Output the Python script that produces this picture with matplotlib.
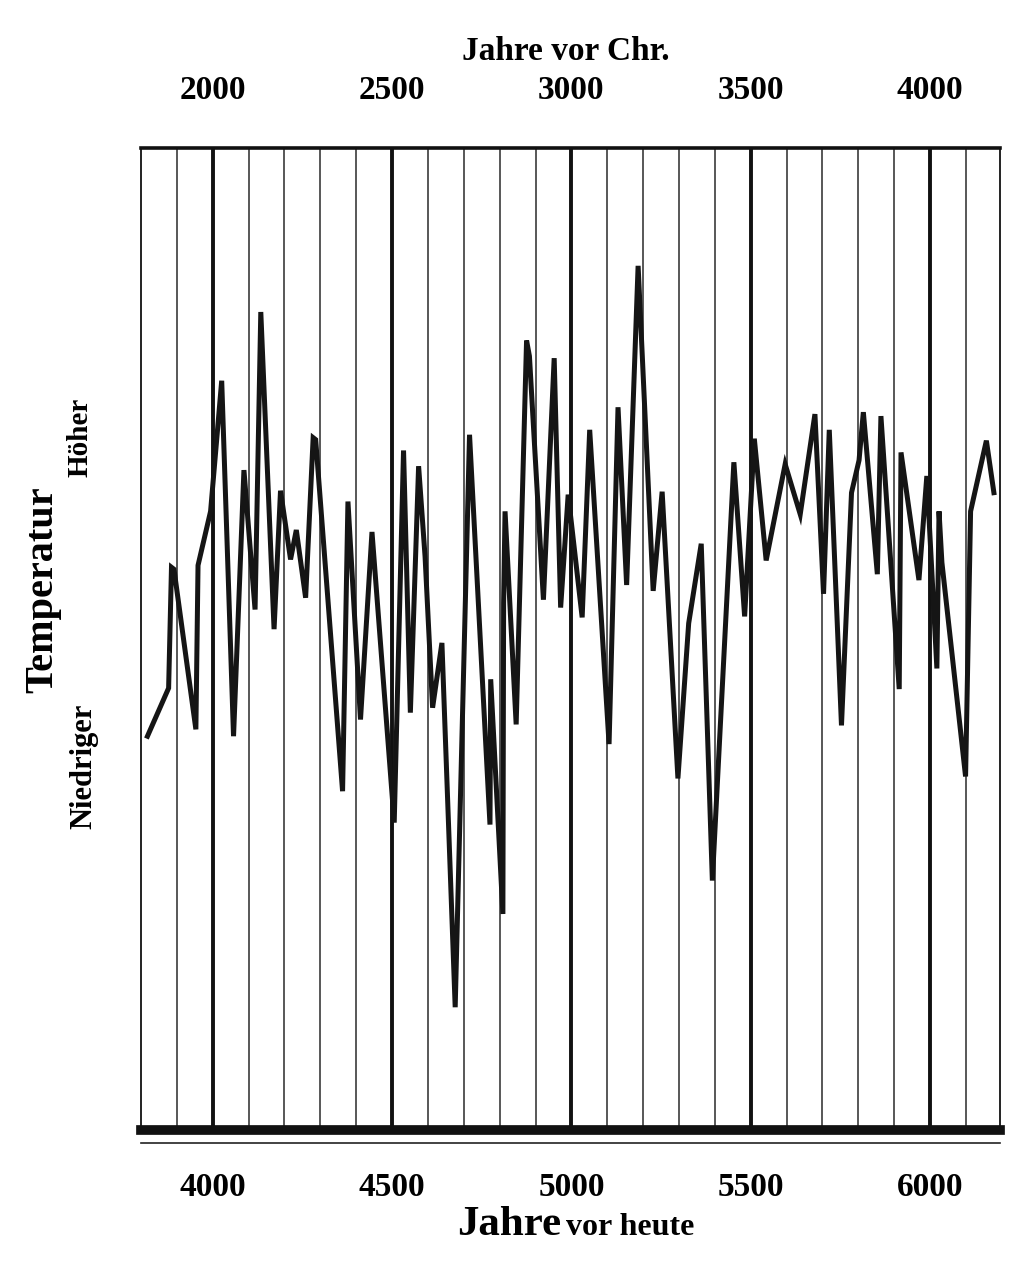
import matplotlib
matplotlib.use("Agg")
import matplotlib.pyplot as plt

plt.rcParams['font.family'] = ['Liberation Serif', 'DejaVu Serif']
plt.rcParams['font.weight'] = 'bold'

# Temperature curve (years before present, relative level 0..100)
years = [3818, 3877, 3885, 3892, 3953, 3959, 3994, 4025, 4058, 4087,
         4118, 4134, 4171, 4189, 4217, 4233, 4259, 4280, 4287, 4362,
         4377, 4412, 4444, 4506, 4532, 4551, 4574, 4592, 4613, 4639,
         4676, 4716, 4773, 4775, 4809, 4811, 4815, 4846, 4875, 4883,
         4922, 4952, 4970, 4991, 5030, 5051, 5105, 5130, 5154, 5186,
         5228, 5253, 5297, 5327, 5362, 5393, 5453, 5483, 5510, 5543,
         5596, 5638, 5679, 5703, 5719, 5753, 5781, 5802, 5814, 5853,
         5863, 5914, 5919, 5969, 5991, 6019, 6025, 6033, 6099, 6113,
         6157, 6178]
temp = [40.1, 45.0, 57.3, 57.1, 40.8, 57.5, 63.0, 76.3, 40.1, 67.2,
        53.0, 83.3, 51.0, 65.1, 58.1, 61.1, 54.2, 70.5, 70.3, 34.5,
        64.0, 41.8, 60.9, 31.3, 69.2, 42.5, 67.6, 58.4, 43.0, 49.6,
        12.5, 70.8, 31.1, 45.9, 22.0, 53.7, 63.0, 41.3, 80.4, 78.8,
        54.0, 78.6, 53.2, 64.7, 52.2, 71.3, 39.3, 73.6, 55.5, 88.0,
        54.9, 65.0, 35.8, 51.6, 59.7, 25.4, 68.0, 52.3, 70.4, 58.0,
        67.8, 62.7, 72.9, 54.6, 71.3, 41.2, 64.9, 68.2, 73.1, 56.6,
        72.7, 44.9, 69.0, 56.0, 66.6, 47.0, 63.0, 57.8, 36.0, 63.0,
        70.2, 64.9]

bp_ticks = [4000, 4500, 5000, 5500, 6000]
bc_ticks = [2000, 2500, 3000, 3500, 4000]
grid_years = list(range(3900, 6200, 100))

W, H = 1029, 1275
fig = plt.figure(figsize=(W / 100, H / 100), dpi=100)
ax = fig.add_axes([141 / W, 1 - 1130 / H, (1000 - 141) / W, (1130 - 148) / H])

# vertical year lines, heavier every 500 years
for yr in grid_years:
    if yr % 500 == 0:
        ax.axvline(yr, color='#111111', lw=2.8, zorder=1)
    else:
        ax.axvline(yr, color='#2a2a2a', lw=1.1, zorder=1)

ax.plot(years, temp, color='#151515', lw=3.6, solid_joinstyle='miter', zorder=3)

ax.set_xlim(3800, 6195)
ax.set_ylim(0, 100)
ax.set_yticks([])

for side, lw in [('top', 2.6), ('bottom', 7), ('left', 1.3), ('right', 1.3)]:
    ax.spines[side].set_linewidth(lw)
    ax.spines[side].set_color('#111111')
ax.plot([0, 1], [-0.013, -0.013], transform=ax.transAxes, color='#222222',
        lw=1.2, clip_on=False)

ax.set_xticks(bp_ticks)
ax.set_xticklabels([str(t) for t in bp_ticks])
ax.tick_params(axis='x', length=0, pad=30, labelsize=24)

top = ax.secondary_xaxis('top', functions=(lambda x: x - 2000, lambda x: x + 2000))
top.set_xticks(bc_ticks)
top.set_xticklabels([str(t) for t in bc_ticks])
top.tick_params(length=0, pad=30, labelsize=24)
top.spines['top'].set_visible(False)

fig.text(566 / W, 1 - 52 / H, 'Jahre vor Chr.', ha='center', va='center',
         fontsize=24, fontweight='bold')
fig.text(561 / W, 1 - 1235 / H, 'Jahre', ha='right', va='baseline',
         fontsize=31, fontweight='bold')
fig.text(566 / W, 1 - 1235 / H, 'vor heute', ha='left', va='baseline',
         fontsize=23, fontweight='bold')

fig.text(43 / W, 1 - 590 / H, 'Temperatur', rotation=90, ha='center', va='center',
         fontsize=29, fontweight='bold')
fig.text(80 / W, 1 - 437 / H, 'Höher', rotation=90, ha='center', va='center',
         fontsize=21, fontweight='bold')
fig.text(84 / W, 1 - 766 / H, 'Niedriger', rotation=90, ha='center', va='center',
         fontsize=22, fontweight='bold')

fig.savefig('out.png', dpi=100, facecolor='white')
